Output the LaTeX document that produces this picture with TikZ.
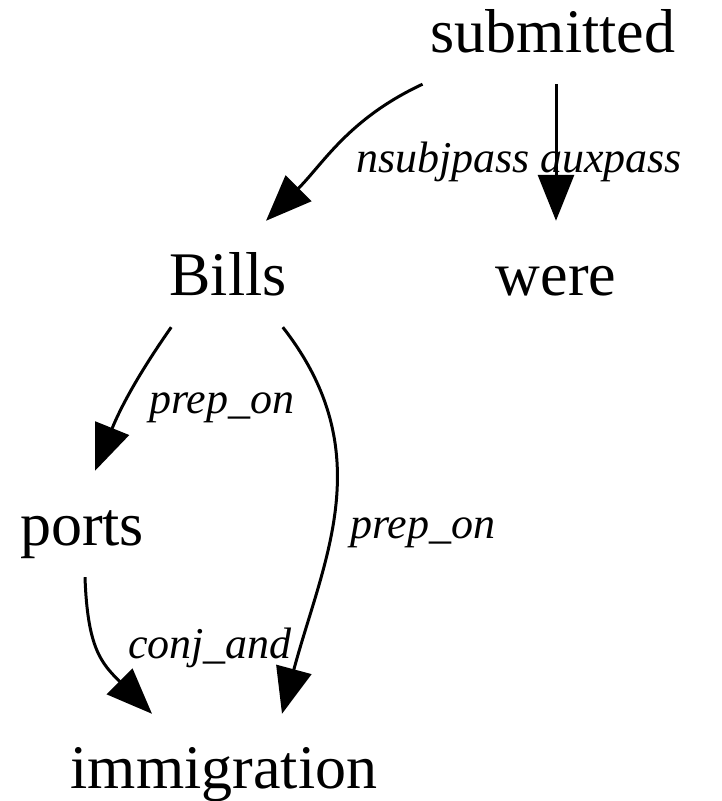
\documentclass[tikz,border=0pt]{standalone}
\usepackage{fontspec}
\setmainfont{Liberation Serif}
\usepackage{tikz}
\usetikzlibrary{positioning, arrows.meta}

\tikzset{
  word/.style={inner sep=0pt, anchor=base, text height=74pt, text depth=32pt,
    font=\fontsize{62}{70}\selectfont},
  rel/.style={inner sep=0pt, anchor=base, font=\fontsize{44}{50}\selectfont\itshape},
  dep/.style={line width=3pt, -{Triangle[length=46pt,width=36pt]}}
}

\begin{document}
\begin{tikzpicture}[x=1pt,y=1pt]
\useasboundingbox (0,0) rectangle (722,-801);
% words
\node[word] (sub) at (553,-52) {submitted};
\node[word] (bills) at (228,-295) {Bills};
\node[word] (were) at (556,-295) {were};
\node[word] (ports) at (82,-545) {ports};
\node[word] (immi) at (224,-788) {immigration};

% dependencies
\draw[dep] ([xshift=-8pt]sub.south west) to[out=205,in=45] ([xshift=38pt]bills.north);
\node[rel] (nsubj) at (443,-172) {nsubjpass};
\draw[dep] (were.north |- sub.south) -- (were.north);
\node[rel] (aux) at (611,-172) {auxpass};

\draw[dep] ([xshift=2pt]bills.south west) to[out=235,in=68] ([xshift=13pt]ports.north);
\node[rel] (prep1) at (222,-413) {prep\_on};
\draw[dep] ([xshift=-4pt]bills.south east) to[out=-52,in=75,looseness=1.05] ([xshift=58pt]immi.north);
\node[rel] (prep2) at (423,-538) {prep\_on};

\draw[dep] ([xshift=3pt]ports.south) to[out=272,in=135,looseness=1.2] ([xshift=-72pt]immi.north);
\node[rel] (conj) at (210,-658) {conj\_and};
\end{tikzpicture}
\end{document}
